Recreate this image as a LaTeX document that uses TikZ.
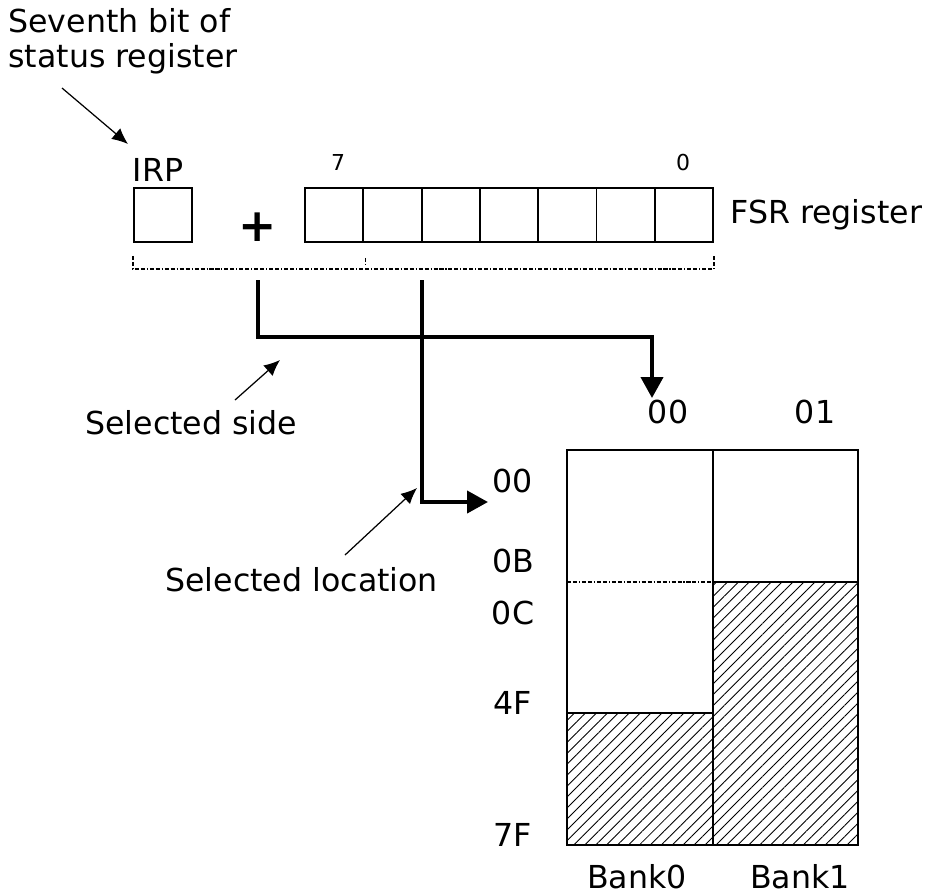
\documentclass[tikz,border=0pt]{standalone}
\usepackage{fontspec}
\setmainfont{DejaVu Sans}
\usetikzlibrary{arrows.meta,calc,patterns.meta}

\begin{document}
\begin{tikzpicture}[
        x=0.02cm, y=-0.02cm,
        font=\fontsize{18}{20}\selectfont,
        bitcell/.style={
            draw,
            line width=1.1pt,
            minimum width=1.166cm,
            minimum height=1.08cm,
            inner sep=0pt
        },
        plain/.style={
            inner sep=0pt
        },
        small/.style={
            inner sep=0pt,
            font=\fontsize{12.5}{14}\selectfont
        },
        bracket/.style={
            line width=0.8pt,
            dash pattern=on 2.3pt off 1.1pt on 2.3pt off 1.1pt on 0.6pt off 1.1pt
        },
        bus/.style={
            -{Triangle[length=4.2mm,width=4.4mm]},
            line width=2.3pt
        },
        pointer/.style={
            -{Latex[length=3.2mm,width=2.8mm]},
            line width=0.7pt
        },
        hatched/.style={
            pattern={Lines[angle=45,distance=4.4pt,line width=0.5pt]}
        },
        frame/.style={
            line width=1.1pt
        }
    ]

        \useasboundingbox (0,0) rectangle (933,894);

        % Beschriftung oben links
        \node[plain,anchor=north west,align=left] (sevenbit) at (8,8)
            {Seventh bit of\\status register};

        % IRP-Bit und FSR-Register
        \node[plain] (irplabel) at (158,170) {IRP};
        \node[bitcell] (irp) at (163,215) {};

        \node[plain,font=\fontsize{26}{26}\selectfont\bfseries] (plus) at (258,227) {+};

        \foreach \i in {0,...,6}
            \node[bitcell] (fsr\i) at ({334.15+58.3*\i},215) {};

        \node[small] (msb) at (338,162) {7};
        \node[small] (lsb) at (683,162) {0};

        \node[plain,anchor=west] (fsrname) at (730,215) {FSR register};

        % gepunktete Klammer unter IRP + FSR
        \draw[bracket]
            ($(irp.south west)+(0,13)$) -- ++(0,13)
            -| ($(fsr6.south east)+(0,13)$);
        \draw[bracket]
            ($(fsr0.south east)+(1,15)$) -- ++(0,7);

        % Speicher: Bank0 und Bank1
        \fill[hatched] (567,713) rectangle (713,845);
        \fill[hatched] (713,582) rectangle (858,845);

        \draw[frame] (567,450) rectangle (713,845);
        \draw[frame] (713,450) rectangle (858,845);
        \draw[frame] (567,713) -- (713,713);
        \draw[frame] (713,582) -- (858,582);
        \draw[bracket] (567,582) -- (713,582);

        \node[plain] (col00) at (668,412) {00};
        \node[plain] (col01) at (815,412) {01};

        \node[plain] (row00) at (513,481) {00};
        \node[plain] (row0B) at (513,561) {0B};
        \node[plain] (row0C) at (513,613) {0C};
        \node[plain] (row4F) at (513,703) {4F};
        \node[plain] (row7F) at (513,835) {7F};

        \node[plain] (bank0) at (637,877) {Bank0};
        \node[plain] (bank1) at (800,877) {Bank1};

        % dicke Pfeile: Seite und Adresse
        \coordinate (sidetap) at (258,280);
        \coordinate (sidehead) at (652,398);
        \coordinate (loctap) at (422,280);
        \coordinate (lochead) at (488,502);

        \draw[bus] (sidetap) -- ++(0,57) -| (sidehead);
        \draw[bus] (loctap) |- (lochead);

        % Erklaerungen
        \node[plain,anchor=west] (sidetext) at (85,423) {Selected side};
        \node[plain,anchor=west] (loctext) at (165,580) {Selected location};

        \coordinate (seventail) at (62,88);
        \coordinate (sevenhead) at (128,144);
        \coordinate (sidetail) at (235,400);
        \coordinate (sidetip) at (280,360);
        \coordinate (loctail) at (345,555);
        \coordinate (loctip) at (417,488);

        \draw[pointer] (seventail) -- (sevenhead);
        \draw[pointer] (sidetail) -- (sidetip);
        \draw[pointer] (loctail) -- (loctip);

    \end{tikzpicture}
\end{document}
